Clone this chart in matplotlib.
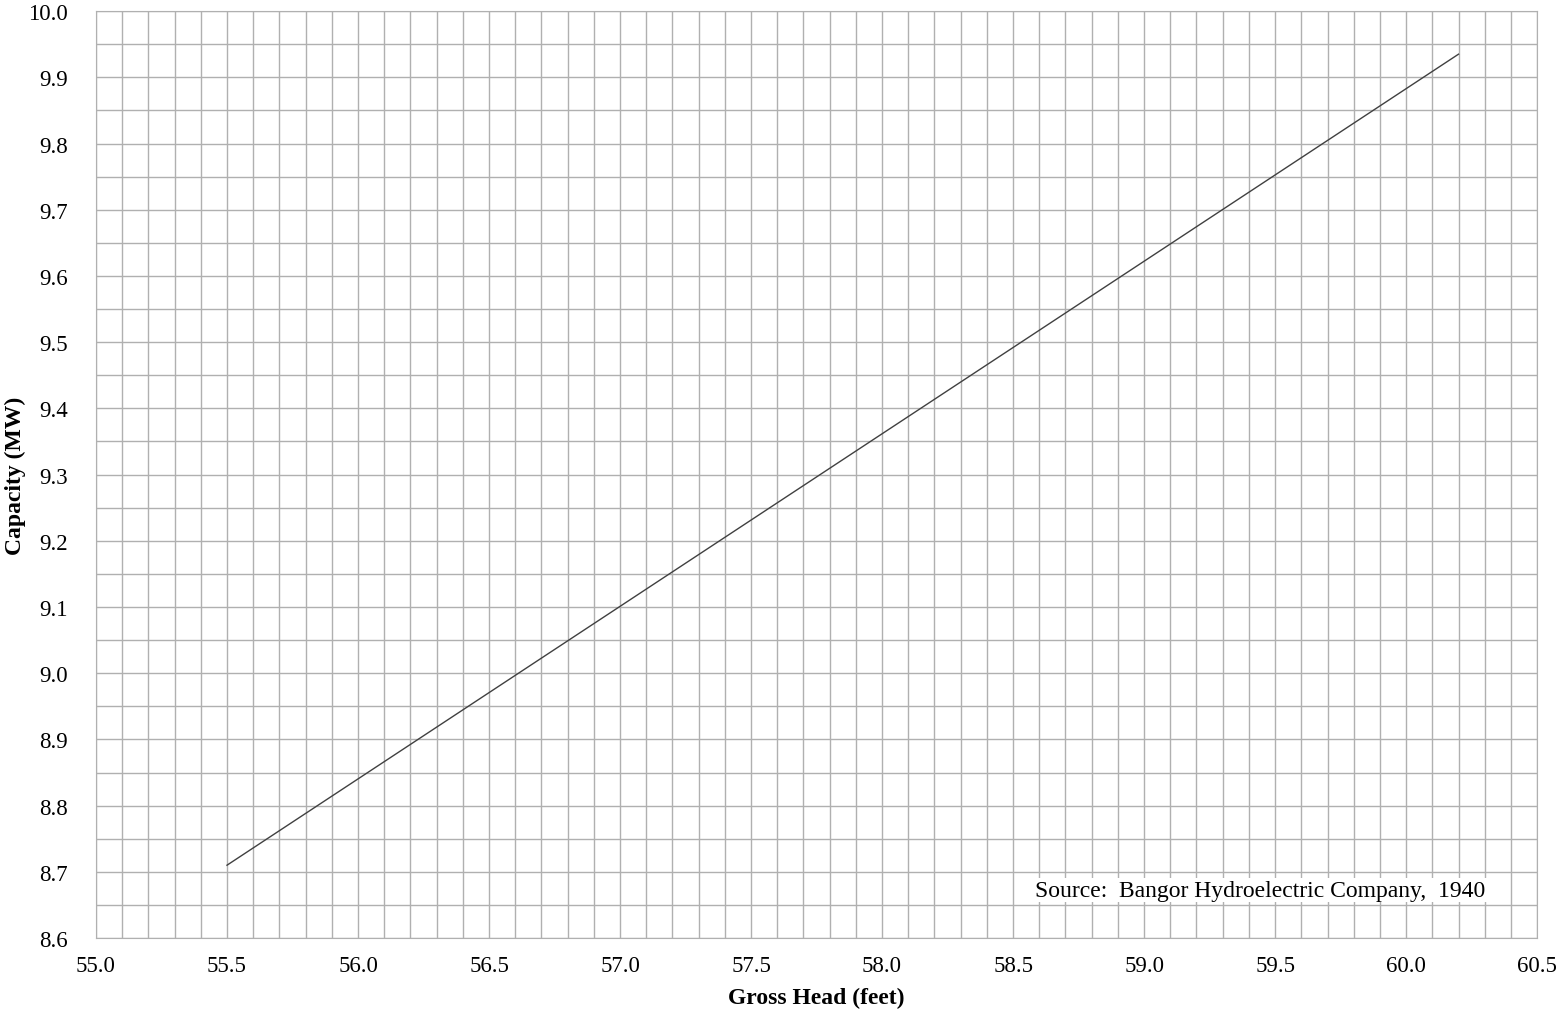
import matplotlib.pyplot as plt
from matplotlib.ticker import MultipleLocator, FormatStrFormatter

plt.rcParams['font.family'] = ['Liberation Serif', 'DejaVu Serif']

# gross head (feet) vs capacity (MW)
head = [55.5, 60.2]
capacity = [8.71, 9.935]
source_note = 'Source:  Bangor Hydroelectric Company,  1940'

fig = plt.figure(figsize=(15.58, 10.12), dpi=100)
ax = fig.add_axes([0.0616, 0.0721, 0.925, 0.9159])

ax.plot(head, capacity, color='#404040', lw=1.0)

ax.set_xlim(55.0, 60.5)
ax.set_ylim(8.6, 10.0)
ax.xaxis.set_major_locator(MultipleLocator(0.5))
ax.xaxis.set_minor_locator(MultipleLocator(0.1))
ax.yaxis.set_major_locator(MultipleLocator(0.1))
ax.yaxis.set_minor_locator(MultipleLocator(0.05))
ax.xaxis.set_major_formatter(FormatStrFormatter('%.1f'))
ax.yaxis.set_major_formatter(FormatStrFormatter('%.1f'))

ax.grid(True, which='both', color='#b0b0b0', lw=1.0)
ax.set_axisbelow(True)
ax.tick_params(which='both', length=0, labelsize=16.5, colors='black')
ax.tick_params(axis='x', pad=12)
ax.tick_params(axis='y', pad=20)
for s in ax.spines.values():
    s.set_color('#b0b0b0')

ax.set_xlabel('Gross Head (feet)', fontsize=17, fontweight='bold', labelpad=8)
ax.set_ylabel('Capacity (MW)', fontsize=17, fontweight='bold', va='center')
ax.yaxis.set_label_coords(-0.056, 0.5)

ax.text(58.585, 8.672, source_note, fontsize=17, va='center', ha='left',
        bbox=dict(facecolor='white', edgecolor='none', pad=1))

fig.savefig('out.png', dpi=100)
